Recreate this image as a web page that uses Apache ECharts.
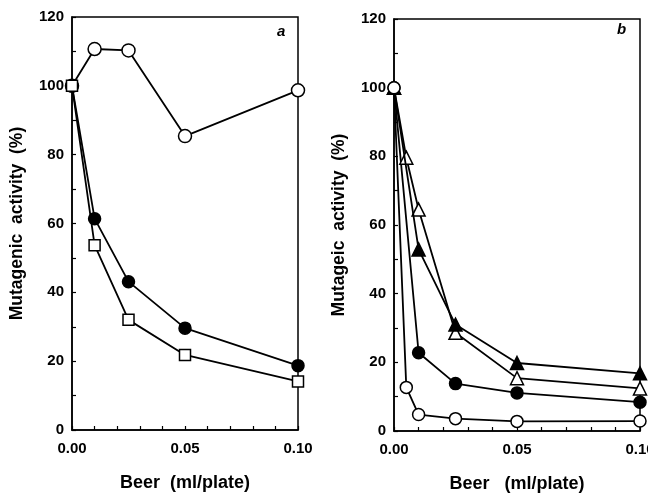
<!DOCTYPE html>
<html>
<head>
<meta charset="utf-8">
<script src="https://cdn.jsdelivr.net/npm/echarts@6/dist/echarts.min.js"></script>
<style>html,body{margin:0;padding:0;background:#fff}#chart{width:648px;height:493px}</style>
</head>
<body>
<div id="chart"></div>
<script>
// Beer dose (ml/plate) vs. mutagenic activity (%)
// Panel a
const aOpenCircle   = [[0, 100], [0.01, 110.7], [0.025, 110.3], [0.05, 85.4], [0.1, 98.7]];
const aFilledCircle = [[0, 100], [0.01, 61.4], [0.025, 43.1], [0.05, 29.6], [0.1, 18.7]];
const aOpenSquare   = [[0, 100], [0.01, 53.7], [0.025, 32.0], [0.05, 21.8], [0.1, 14.1]];
// Panel b
const bOpenCircle     = [[0, 100], [0.005, 12.7], [0.01, 4.8], [0.025, 3.6], [0.05, 2.8], [0.1, 2.9]];
const bFilledCircle   = [[0, 100], [0.01, 22.8], [0.025, 13.8], [0.05, 11.1], [0.1, 8.4]];
const bOpenTriangle   = [[0, 100], [0.005, 79.6], [0.01, 64.5], [0.025, 28.6], [0.05, 15.4], [0.1, 12.4]];
const bFilledTriangle = [[0, 100], [0.01, 52.9], [0.025, 31.0], [0.05, 19.8], [0.1, 16.8]];

const xTickLabels = ['0.00', '0.05', '0.10'];
const yTickLabels = ['0', '20', '40', '60', '80', '100', '120'];

const FONT = 'Liberation Sans, Arial, sans-serif';

function xAxis(gridIndex, name) {
  return {
    gridIndex, type: 'value', min: 0, max: 0.1, interval: 0.01,
    name, nameLocation: 'middle', nameGap: 44,
    nameTextStyle: { fontFamily: FONT, fontWeight: 'bold', fontSize: 18, color: '#000' },
    axisLine: { lineStyle: { color: '#000', width: 1.5 } },
    axisTick: { inside: true, length: 4, lineStyle: { color: '#000', width: 1.2 } },
    axisLabel: {
      fontFamily: FONT, fontWeight: 'bold', fontSize: 15, color: '#000', margin: 11,
      showMaxLabel: true,
      formatter: v => {
        const s = v.toFixed(2);
        return xTickLabels.includes(s) ? s : '';
      }
    },
    splitLine: { show: false }
  };
}

function yAxis(gridIndex, name) {
  return {
    gridIndex, type: 'value', min: 0, max: 120, interval: 10,
    name, nameLocation: 'middle', nameGap: 46,
    nameTextStyle: { fontFamily: FONT, fontWeight: 'bold', fontSize: 17.5, color: '#000' },
    axisLine: { lineStyle: { color: '#000', width: 1.5 } },
    axisTick: { inside: true, length: 4, lineStyle: { color: '#000', width: 1.2 } },
    axisLabel: {
      fontFamily: FONT, fontWeight: 'bold', fontSize: 15, color: '#000', margin: 8,
      formatter: v => {
        const s = String(Math.round(v));
        return yTickLabels.includes(s) ? s : '';
      }
    },
    splitLine: { show: false }
  };
}

function series(idx, data, symbol, filled, size, z) {
  return {
    type: 'line', xAxisIndex: idx, yAxisIndex: idx, data,
    symbol, symbolSize: size, showAllSymbol: true,
    lineStyle: { color: '#000', width: 1.8 },
    itemStyle: { color: filled ? '#000' : '#fff', borderColor: '#000', borderWidth: 1.5 },
    emphasis: { disabled: true },
    z
  };
}

const gridBase = { show: true, borderColor: '#000', borderWidth: 1.5, backgroundColor: 'transparent', outerBoundsMode: 'none', containLabel: false };

const chart = echarts.init(document.getElementById('chart'), null, { renderer: 'canvas' });
chart.setOption({
  animation: false,
  backgroundColor: '#fff',
  grid: [
    Object.assign({ left: 72, right: 350, top: 17, bottom: 63 }, gridBase),
    Object.assign({ left: 394, right: 8, top: 19, bottom: 62 }, gridBase)
  ],
  xAxis: [xAxis(0, 'Beer  (ml/plate)'), xAxis(1, 'Beer   (ml/plate)')],
  yAxis: [yAxis(0, 'Mutagenic  activity  (%)'), yAxis(1, 'Mutageic  activity  (%)')],
  graphic: [
    { type: 'text', left: 277, top: 24, style: { text: 'a', font: 'italic bold 15px ' + FONT, fill: '#000' } },
    { type: 'text', left: 617, top: 22, style: { text: 'b', font: 'italic bold 15px ' + FONT, fill: '#000' } }
  ],
  series: [
    series(0, aOpenCircle, 'circle', false, 13, 2),
    series(0, aFilledCircle, 'circle', true, 12, 3),
    series(0, aOpenSquare, 'rect', false, 11, 4),
    series(1, bFilledCircle, 'circle', true, 12, 2),
    series(1, bOpenTriangle, 'triangle', false, 13, 3),
    series(1, bFilledTriangle, 'triangle', true, 13, 4),
    series(1, bOpenCircle, 'circle', false, 12, 5)
  ]
});
</script>
</body>
</html>
